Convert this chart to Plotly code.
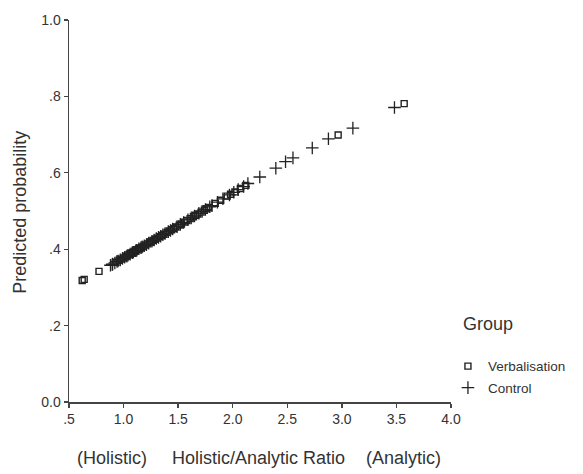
import plotly.graph_objects as go

# Holistic/Analytic ratio (x) and predicted probability (y)
verb_x = [0.621, 0.639, 0.775, 0.93, 0.96, 0.98, 1.00, 1.02, 1.03, 1.05, 1.07, 1.08,
          1.10, 1.11, 1.13, 1.15, 1.16, 1.18, 1.20, 1.22, 1.24, 1.25, 1.27, 1.29,
          1.31, 1.33, 1.35, 1.37, 1.40, 1.42, 1.44, 1.46, 1.48, 1.51, 1.53, 1.56,
          1.58, 1.61, 1.64, 1.66, 1.68, 1.71, 1.74, 1.76, 1.78, 1.84, 1.89, 1.95,
          1.98, 2.02, 2.07, 2.12, 2.966, 3.571]
verb_y = [0.318, 0.321, 0.342, 0.366, 0.371, 0.374, 0.377, 0.381, 0.382, 0.386, 0.389, 0.391,
          0.394, 0.396, 0.399, 0.402, 0.404, 0.407, 0.411, 0.414, 0.418, 0.419, 0.423, 0.426,
          0.429, 0.433, 0.436, 0.439, 0.444, 0.448, 0.451, 0.454, 0.458, 0.463, 0.466, 0.471,
          0.475, 0.480, 0.485, 0.489, 0.492, 0.497, 0.502, 0.506, 0.509, 0.520, 0.528, 0.539,
          0.544, 0.550, 0.559, 0.567, 0.699, 0.781]

ctrl_x = [0.88, 0.896, 0.90, 0.92, 0.94, 0.95, 0.97, 0.99, 1.01, 1.03, 1.04, 1.06, 1.08,
          1.09, 1.11, 1.12, 1.14, 1.16, 1.17, 1.19, 1.21, 1.23, 1.26, 1.28, 1.30,
          1.32, 1.34, 1.36, 1.38, 1.41, 1.43, 1.45, 1.49, 1.52, 1.55, 1.59, 1.62,
          1.65, 1.69, 1.72, 1.75, 1.79, 1.81, 1.86, 1.91, 1.97, 2.01, 2.05, 2.10,
          2.139, 2.248, 2.395, 2.484, 2.552, 2.729, 2.877, 3.101, 3.482]
ctrl_y = [0.358, 0.360, 0.361, 0.364, 0.368, 0.369, 0.372, 0.376, 0.379, 0.382, 0.384, 0.387, 0.391,
          0.392, 0.396, 0.397, 0.401, 0.404, 0.406, 0.409, 0.412, 0.416, 0.421, 0.424, 0.428,
          0.431, 0.434, 0.438, 0.441, 0.446, 0.449, 0.453, 0.459, 0.465, 0.470, 0.477, 0.482,
          0.487, 0.494, 0.499, 0.504, 0.511, 0.514, 0.523, 0.532, 0.542, 0.549, 0.556, 0.564,
          0.572, 0.589, 0.612, 0.629, 0.639, 0.665, 0.689, 0.717, 0.771]

x_ticks = [0.5, 1.0, 1.5, 2.0, 2.5, 3.0, 3.5, 4.0]
x_labels = [".5", "1.0", "1.5", "2.0", "2.5", "3.0", "3.5", "4.0"]
y_ticks = [0.0, 0.2, 0.4, 0.6, 0.8, 1.0]
y_labels = ["0.0", ".2", ".4", ".6", ".8", "1.0"]

FONT = "Liberation Sans, Arial, sans-serif"
INK = "#222222"
AX = "#444444"

fig = go.Figure()
fig.add_trace(go.Scatter(
    x=verb_x, y=verb_y, mode="markers", name="Verbalisation", legendgroup="v",
    marker=dict(symbol="square-open", size=6, color=INK, line=dict(width=1.4, color=INK)),
    cliponaxis=False,
))
fig.add_trace(go.Scatter(
    x=ctrl_x, y=ctrl_y, mode="markers", name="Control", legendgroup="c",
    marker=dict(symbol="cross-thin-open", size=9, color=INK, line=dict(width=1.3, color=INK)),
    cliponaxis=False,
))

axis_common = dict(
    showline=True, linecolor=AX, linewidth=1.5, showgrid=False, zeroline=False,
    ticks="outside", ticklen=4, tickwidth=1.3, tickcolor=AX,
    tickfont=dict(family=FONT, size=14, color="#333333"),
)
fig.update_xaxes(range=[0.5, 4.0], tickvals=x_ticks, ticktext=x_labels, **axis_common)
fig.update_yaxes(range=[0.0, 1.0], tickvals=y_ticks, ticktext=y_labels, **axis_common)

ann_font = dict(family=FONT, size=18, color="#333333")
xt_y = -0.1465
annotations = [
    dict(text="Predicted probability", x=-0.129, y=0.497, xref="paper", yref="paper",
         textangle=-90, showarrow=False, font=ann_font, xanchor="center", yanchor="middle"),
    dict(text="(Holistic)", x=0.1117, y=xt_y, xref="paper", yref="paper", borderpad=0,
         showarrow=False, font=ann_font, xanchor="center", yanchor="middle"),
    dict(text="Holistic/Analytic Ratio", x=0.496, y=xt_y, xref="paper", yref="paper", borderpad=0,
         showarrow=False, font=ann_font, xanchor="center", yanchor="middle"),
    dict(text="(Analytic)", x=0.8756, y=xt_y, xref="paper", yref="paper", borderpad=0,
         showarrow=False, font=ann_font, xanchor="center", yanchor="middle"),
    dict(text="Group", x=1.0254, y=0.203, xref="paper", yref="paper",
         showarrow=False, font=ann_font, xanchor="left", yanchor="middle"),
]

fig.update_layout(
    width=583, height=474,
    margin=dict(l=69, r=120, t=13, b=72),
    paper_bgcolor="white", plot_bgcolor="white",
    font=dict(family=FONT, color="#333333"),
    annotations=annotations,
    showlegend=True,
    legend=dict(x=0.992, y=0.134, xanchor="left", yanchor="top",
                font=dict(family=FONT, size=13.5, color="#333333"),
                traceorder="grouped", tracegroupgap=1,
                bgcolor="rgba(0,0,0,0)", borderwidth=0),
)

fig.write_html(
    "out.html",
    config={"displayModeBar": False, "staticPlot": True},
    post_script="document.body.style.margin='0';document.body.style.overflow='hidden';",
)
